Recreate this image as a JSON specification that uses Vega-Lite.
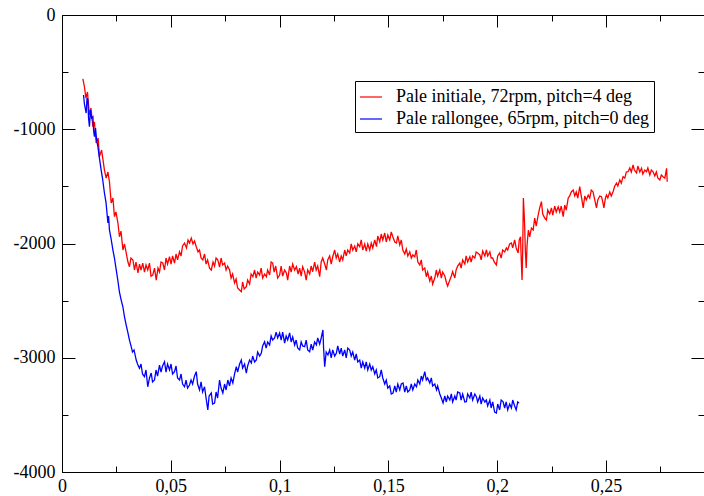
{
"$schema": "https://vega.github.io/schema/vega-lite/v6.json",
"width": 642, "height": 457,
"autosize": {"type": "none"},
"padding": {"left": 62, "top": 15, "right": 0, "bottom": 24},
"background": "white",
"config": {"view": {"stroke": "black", "strokeWidth": 1}, "font": "Liberation Serif"},
"datasets": {
"red": [
{"x":0.0096,"y":-560},{"x":0.0103,"y":-628},{"x":0.0110,"y":-727},{"x":0.0117,"y":-674},{"x":0.0126,"y":-875},{"x":0.0133,"y":-814},{"x":0.0142,"y":-978},{"x":0.0149,"y":-936},{"x":0.0157,"y":-1120},{"x":0.0166,"y":-1077},
{"x":0.0172,"y":-1240},{"x":0.0182,"y":-1182},{"x":0.0195,"y":-1357},{"x":0.0203,"y":-1427},{"x":0.0211,"y":-1374},{"x":0.0218,"y":-1459},{"x":0.0226,"y":-1646},{"x":0.0234,"y":-1602},{"x":0.0241,"y":-1765},{"x":0.0248,"y":-1724},
{"x":0.0257,"y":-1821},{"x":0.0264,"y":-1941},{"x":0.0271,"y":-1891},{"x":0.0280,"y":-2057},{"x":0.0287,"y":-2004},{"x":0.0295,"y":-2083},{"x":0.0303,"y":-2162},{"x":0.0310,"y":-2203},{"x":0.0317,"y":-2127},{"x":0.0326,"y":-2144},
{"x":0.0333,"y":-2232},{"x":0.0340,"y":-2162},{"x":0.0349,"y":-2258},{"x":0.0356,"y":-2180},{"x":0.0363,"y":-2232},{"x":0.0371,"y":-2171},{"x":0.0379,"y":-2250},{"x":0.0386,"y":-2188},{"x":0.0394,"y":-2232},{"x":0.0402,"y":-2171},
{"x":0.0409,"y":-2285},{"x":0.0417,"y":-2276},{"x":0.0425,"y":-2215},{"x":0.0433,"y":-2320},{"x":0.0441,"y":-2215},{"x":0.0448,"y":-2250},{"x":0.0455,"y":-2162},{"x":0.0463,"y":-2171},{"x":0.0471,"y":-2232},{"x":0.0478,"y":-2127},
{"x":0.0485,"y":-2180},{"x":0.0494,"y":-2116},{"x":0.0501,"y":-2180},{"x":0.0508,"y":-2109},{"x":0.0517,"y":-2171},{"x":0.0524,"y":-2092},{"x":0.0531,"y":-2144},{"x":0.0540,"y":-2072},{"x":0.0547,"y":-2109},{"x":0.0554,"y":-2022},
{"x":0.0563,"y":-1996},{"x":0.0572,"y":-2039},{"x":0.0579,"y":-1969},{"x":0.0586,"y":-1996},{"x":0.0594,"y":-1952},{"x":0.0602,"y":-2004},{"x":0.0609,"y":-1978},{"x":0.0617,"y":-2028},{"x":0.0625,"y":-2074},{"x":0.0632,"y":-2057},
{"x":0.0639,"y":-2127},{"x":0.0647,"y":-2144},{"x":0.0655,"y":-2092},{"x":0.0662,"y":-2180},{"x":0.0669,"y":-2144},{"x":0.0678,"y":-2215},{"x":0.0686,"y":-2232},{"x":0.0694,"y":-2162},{"x":0.0701,"y":-2197},{"x":0.0708,"y":-2127},
{"x":0.0716,"y":-2144},{"x":0.0724,"y":-2206},{"x":0.0731,"y":-2127},{"x":0.0738,"y":-2188},{"x":0.0747,"y":-2171},{"x":0.0754,"y":-2232},{"x":0.0761,"y":-2197},{"x":0.0770,"y":-2232},{"x":0.0777,"y":-2302},{"x":0.0784,"y":-2267},
{"x":0.0793,"y":-2346},{"x":0.0800,"y":-2311},{"x":0.0807,"y":-2390},{"x":0.0816,"y":-2407},{"x":0.0824,"y":-2422},{"x":0.0830,"y":-2337},{"x":0.0837,"y":-2398},{"x":0.0847,"y":-2378},{"x":0.0853,"y":-2320},{"x":0.0862,"y":-2355},
{"x":0.0869,"y":-2267},{"x":0.0877,"y":-2291},{"x":0.0885,"y":-2232},{"x":0.0892,"y":-2302},{"x":0.0899,"y":-2250},{"x":0.0908,"y":-2276},{"x":0.0915,"y":-2215},{"x":0.0922,"y":-2302},{"x":0.0931,"y":-2267},{"x":0.0939,"y":-2291},
{"x":0.0945,"y":-2232},{"x":0.0954,"y":-2276},{"x":0.0961,"y":-2162},{"x":0.0968,"y":-2171},{"x":0.0975,"y":-2250},{"x":0.0982,"y":-2197},{"x":0.0991,"y":-2302},{"x":0.1000,"y":-2276},{"x":0.1007,"y":-2197},{"x":0.1014,"y":-2285},
{"x":0.1023,"y":-2232},{"x":0.1031,"y":-2258},{"x":0.1037,"y":-2320},{"x":0.1046,"y":-2197},{"x":0.1053,"y":-2250},{"x":0.1060,"y":-2180},{"x":0.1069,"y":-2232},{"x":0.1077,"y":-2203},{"x":0.1085,"y":-2267},{"x":0.1092,"y":-2215},
{"x":0.1099,"y":-2285},{"x":0.1106,"y":-2203},{"x":0.1115,"y":-2250},{"x":0.1122,"y":-2320},{"x":0.1129,"y":-2232},{"x":0.1138,"y":-2267},{"x":0.1145,"y":-2197},{"x":0.1152,"y":-2247},{"x":0.1161,"y":-2162},{"x":0.1168,"y":-2232},
{"x":0.1175,"y":-2197},{"x":0.1184,"y":-2291},{"x":0.1191,"y":-2162},{"x":0.1198,"y":-2127},{"x":0.1207,"y":-2180},{"x":0.1215,"y":-2232},{"x":0.1221,"y":-2144},{"x":0.1230,"y":-2109},{"x":0.1237,"y":-2180},{"x":0.1244,"y":-2116},
{"x":0.1253,"y":-2057},{"x":0.1260,"y":-2127},{"x":0.1267,"y":-2092},{"x":0.1276,"y":-2162},{"x":0.1283,"y":-2109},{"x":0.1290,"y":-2144},{"x":0.1299,"y":-2057},{"x":0.1306,"y":-2109},{"x":0.1313,"y":-2057},{"x":0.1322,"y":-2083},
{"x":0.1329,"y":-2004},{"x":0.1336,"y":-2057},{"x":0.1345,"y":-2022},{"x":0.1352,"y":-2074},{"x":0.1359,"y":-2004},{"x":0.1368,"y":-2028},{"x":0.1375,"y":-1969},{"x":0.1382,"y":-2057},{"x":0.1391,"y":-2004},{"x":0.1398,"y":-2066},
{"x":0.1405,"y":-2004},{"x":0.1414,"y":-2057},{"x":0.1421,"y":-1996},{"x":0.1428,"y":-2039},{"x":0.1437,"y":-1969},{"x":0.1445,"y":-2028},{"x":0.1451,"y":-1934},{"x":0.1460,"y":-1984},{"x":0.1467,"y":-1917},{"x":0.1474,"y":-1969},
{"x":0.1483,"y":-1908},{"x":0.1490,"y":-1987},{"x":0.1497,"y":-1926},{"x":0.1506,"y":-1969},{"x":0.1513,"y":-1899},{"x":0.1520,"y":-1941},{"x":0.1529,"y":-1987},{"x":0.1537,"y":-1996},{"x":0.1543,"y":-1934},{"x":0.1552,"y":-2013},
{"x":0.1559,"y":-1969},{"x":0.1566,"y":-2057},{"x":0.1575,"y":-2092},{"x":0.1582,"y":-2048},{"x":0.1589,"y":-2109},{"x":0.1598,"y":-2074},{"x":0.1605,"y":-2127},{"x":0.1612,"y":-2100},{"x":0.1621,"y":-2116},{"x":0.1628,"y":-2057},
{"x":0.1635,"y":-2162},{"x":0.1644,"y":-2188},{"x":0.1651,"y":-2144},{"x":0.1657,"y":-2232},{"x":0.1667,"y":-2215},{"x":0.1674,"y":-2291},{"x":0.1680,"y":-2250},{"x":0.1690,"y":-2328},{"x":0.1697,"y":-2285},{"x":0.1703,"y":-2355},
{"x":0.1713,"y":-2302},{"x":0.1720,"y":-2232},{"x":0.1726,"y":-2285},{"x":0.1736,"y":-2232},{"x":0.1743,"y":-2302},{"x":0.1749,"y":-2250},{"x":0.1759,"y":-2285},{"x":0.1767,"y":-2346},{"x":0.1772,"y":-2372},{"x":0.1782,"y":-2320},
{"x":0.1789,"y":-2285},{"x":0.1795,"y":-2247},{"x":0.1805,"y":-2302},{"x":0.1811,"y":-2232},{"x":0.1818,"y":-2197},{"x":0.1828,"y":-2171},{"x":0.1834,"y":-2215},{"x":0.1841,"y":-2144},{"x":0.1851,"y":-2180},{"x":0.1857,"y":-2109},
{"x":0.1864,"y":-2162},{"x":0.1874,"y":-2116},{"x":0.1880,"y":-2162},{"x":0.1887,"y":-2109},{"x":0.1897,"y":-2127},{"x":0.1903,"y":-2074},{"x":0.1910,"y":-2083},{"x":0.1920,"y":-2100},{"x":0.1926,"y":-2144},{"x":0.1933,"y":-2066},
{"x":0.1943,"y":-2109},{"x":0.1950,"y":-2057},{"x":0.1956,"y":-2109},{"x":0.1966,"y":-2074},{"x":0.1972,"y":-2127},{"x":0.1979,"y":-2127},{"x":0.1986,"y":-2162},{"x":0.1996,"y":-2188},{"x":0.2002,"y":-2109},{"x":0.2011,"y":-2083},
{"x":0.2018,"y":-2127},{"x":0.2025,"y":-2057},{"x":0.2034,"y":-2074},{"x":0.2042,"y":-2039},{"x":0.2048,"y":-2057},{"x":0.2057,"y":-2004},{"x":0.2065,"y":-1996},{"x":0.2071,"y":-2039},{"x":0.2080,"y":-1969},{"x":0.2087,"y":-2039},
{"x":0.2096,"y":-2083},{"x":0.2101,"y":-1969},{"x":0.2107,"y":-1941},{"x":0.2110,"y":-2127},{"x":0.2114,"y":-2320},{"x":0.2117,"y":-2057},{"x":0.2120,"y":-1602},{"x":0.2124,"y":-1751},{"x":0.2126,"y":-1853},{"x":0.2129,"y":-2057},
{"x":0.2133,"y":-2215},{"x":0.2137,"y":-2013},{"x":0.2143,"y":-1882},{"x":0.2149,"y":-1941},{"x":0.2157,"y":-1865},{"x":0.2165,"y":-1882},{"x":0.2172,"y":-1777},{"x":0.2179,"y":-1847},{"x":0.2188,"y":-1751},{"x":0.2195,"y":-1689},
{"x":0.2203,"y":-1634},{"x":0.2209,"y":-1742},{"x":0.2218,"y":-1777},{"x":0.2226,"y":-1794},{"x":0.2232,"y":-1707},{"x":0.2241,"y":-1742},{"x":0.2249,"y":-1689},{"x":0.2255,"y":-1751},{"x":0.2264,"y":-1672},{"x":0.2271,"y":-1724},
{"x":0.2280,"y":-1678},{"x":0.2287,"y":-1724},{"x":0.2294,"y":-1672},{"x":0.2303,"y":-1765},{"x":0.2310,"y":-1663},{"x":0.2317,"y":-1707},{"x":0.2326,"y":-1602},{"x":0.2333,"y":-1584},{"x":0.2340,"y":-1549},{"x":0.2349,"y":-1532},
{"x":0.2356,"y":-1584},{"x":0.2363,"y":-1549},{"x":0.2370,"y":-1602},{"x":0.2379,"y":-1503},{"x":0.2386,"y":-1584},{"x":0.2395,"y":-1689},{"x":0.2402,"y":-1584},{"x":0.2409,"y":-1619},{"x":0.2418,"y":-1576},{"x":0.2425,"y":-1602},
{"x":0.2432,"y":-1532},{"x":0.2440,"y":-1547},{"x":0.2448,"y":-1619},{"x":0.2456,"y":-1689},{"x":0.2462,"y":-1619},{"x":0.2471,"y":-1584},{"x":0.2479,"y":-1590},{"x":0.2485,"y":-1637},{"x":0.2490,"y":-1689},{"x":0.2497,"y":-1602},
{"x":0.2502,"y":-1576},{"x":0.2508,"y":-1602},{"x":0.2517,"y":-1549},{"x":0.2524,"y":-1584},{"x":0.2532,"y":-1547},{"x":0.2540,"y":-1497},{"x":0.2548,"y":-1471},{"x":0.2554,"y":-1497},{"x":0.2563,"y":-1444},{"x":0.2570,"y":-1471},
{"x":0.2578,"y":-1415},{"x":0.2586,"y":-1427},{"x":0.2593,"y":-1374},{"x":0.2601,"y":-1372},{"x":0.2609,"y":-1339},{"x":0.2616,"y":-1374},{"x":0.2624,"y":-1313},{"x":0.2630,"y":-1357},{"x":0.2640,"y":-1383},{"x":0.2646,"y":-1322},
{"x":0.2655,"y":-1374},{"x":0.2663,"y":-1342},{"x":0.2669,"y":-1392},{"x":0.2678,"y":-1357},{"x":0.2686,"y":-1372},{"x":0.2692,"y":-1339},{"x":0.2701,"y":-1400},{"x":0.2708,"y":-1357},{"x":0.2716,"y":-1372},{"x":0.2724,"y":-1409},
{"x":0.2731,"y":-1374},{"x":0.2738,"y":-1427},{"x":0.2747,"y":-1444},{"x":0.2754,"y":-1400},{"x":0.2762,"y":-1415},{"x":0.2770,"y":-1427},{"x":0.2778,"y":-1342},{"x":0.2781,"y":-1459}
],
"blue": [
{"x":0.0099,"y":-700},{"x":0.0103,"y":-779},{"x":0.0111,"y":-858},{"x":0.0115,"y":-727},{"x":0.0119,"y":-744},{"x":0.0122,"y":-902},{"x":0.0126,"y":-978},{"x":0.0131,"y":-832},{"x":0.0136,"y":-902},{"x":0.0142,"y":-890},
{"x":0.0145,"y":-1007},{"x":0.0149,"y":-1065},{"x":0.0154,"y":-989},{"x":0.0159,"y":-1094},{"x":0.0165,"y":-1153},{"x":0.0172,"y":-1252},{"x":0.0180,"y":-1357},{"x":0.0186,"y":-1427},{"x":0.0195,"y":-1558},{"x":0.0202,"y":-1637},
{"x":0.0211,"y":-1821},{"x":0.0214,"y":-1759},{"x":0.0218,"y":-1882},{"x":0.0225,"y":-1952},{"x":0.0234,"y":-2057},{"x":0.0241,"y":-2127},{"x":0.0248,"y":-2215},{"x":0.0257,"y":-2328},{"x":0.0264,"y":-2425},{"x":0.0272,"y":-2495},
{"x":0.0280,"y":-2556},{"x":0.0287,"y":-2641},{"x":0.0294,"y":-2705},{"x":0.0303,"y":-2783},{"x":0.0310,"y":-2845},{"x":0.0318,"y":-2903},{"x":0.0324,"y":-2950},{"x":0.0331,"y":-2932},{"x":0.0341,"y":-3020},{"x":0.0347,"y":-3055},
{"x":0.0356,"y":-3092},{"x":0.0363,"y":-3055},{"x":0.0370,"y":-3142},{"x":0.0379,"y":-3166},{"x":0.0386,"y":-3107},{"x":0.0394,"y":-3254},{"x":0.0402,"y":-3177},{"x":0.0410,"y":-3134},{"x":0.0416,"y":-3212},{"x":0.0425,"y":-3195},
{"x":0.0432,"y":-3107},{"x":0.0439,"y":-3160},{"x":0.0448,"y":-3064},{"x":0.0455,"y":-3125},{"x":0.0462,"y":-3072},{"x":0.0471,"y":-3035},{"x":0.0478,"y":-3125},{"x":0.0485,"y":-3055},{"x":0.0494,"y":-3107},{"x":0.0501,"y":-3055},
{"x":0.0508,"y":-3142},{"x":0.0517,"y":-3122},{"x":0.0524,"y":-3072},{"x":0.0531,"y":-3177},{"x":0.0540,"y":-3195},{"x":0.0547,"y":-3142},{"x":0.0554,"y":-3230},{"x":0.0563,"y":-3254},{"x":0.0570,"y":-3195},{"x":0.0577,"y":-3265},
{"x":0.0586,"y":-3239},{"x":0.0593,"y":-3195},{"x":0.0600,"y":-3230},{"x":0.0609,"y":-3160},{"x":0.0617,"y":-3122},{"x":0.0623,"y":-3230},{"x":0.0632,"y":-3282},{"x":0.0639,"y":-3212},{"x":0.0646,"y":-3300},{"x":0.0655,"y":-3254},
{"x":0.0662,"y":-3352},{"x":0.0670,"y":-3457},{"x":0.0676,"y":-3335},{"x":0.0686,"y":-3309},{"x":0.0692,"y":-3405},{"x":0.0701,"y":-3396},{"x":0.0708,"y":-3300},{"x":0.0715,"y":-3352},{"x":0.0724,"y":-3195},{"x":0.0731,"y":-3265},
{"x":0.0739,"y":-3309},{"x":0.0747,"y":-3230},{"x":0.0754,"y":-3282},{"x":0.0762,"y":-3195},{"x":0.0770,"y":-3247},{"x":0.0777,"y":-3177},{"x":0.0785,"y":-3221},{"x":0.0793,"y":-3142},{"x":0.0801,"y":-3078},{"x":0.0807,"y":-3125},
{"x":0.0816,"y":-3055},{"x":0.0824,"y":-3020},{"x":0.0830,"y":-3090},{"x":0.0839,"y":-3055},{"x":0.0847,"y":-3134},{"x":0.0853,"y":-3072},{"x":0.0862,"y":-3020},{"x":0.0870,"y":-3046},{"x":0.0876,"y":-2985},{"x":0.0885,"y":-3037},
{"x":0.0893,"y":-3020},{"x":0.0899,"y":-2950},{"x":0.0908,"y":-2985},{"x":0.0916,"y":-2958},{"x":0.0922,"y":-2897},{"x":0.0931,"y":-2860},{"x":0.0938,"y":-2915},{"x":0.0945,"y":-2862},{"x":0.0954,"y":-2888},{"x":0.0961,"y":-2810},
{"x":0.0968,"y":-2845},{"x":0.0977,"y":-2827},{"x":0.0984,"y":-2775},{"x":0.0991,"y":-2827},{"x":0.1000,"y":-2783},{"x":0.1007,"y":-2845},{"x":0.1014,"y":-2775},{"x":0.1023,"y":-2871},{"x":0.1030,"y":-2810},{"x":0.1037,"y":-2845},
{"x":0.1046,"y":-2783},{"x":0.1053,"y":-2862},{"x":0.1060,"y":-2818},{"x":0.1069,"y":-2888},{"x":0.1076,"y":-2845},{"x":0.1083,"y":-2915},{"x":0.1092,"y":-2932},{"x":0.1099,"y":-2862},{"x":0.1106,"y":-2897},{"x":0.1115,"y":-2903},
{"x":0.1122,"y":-2845},{"x":0.1129,"y":-2932},{"x":0.1138,"y":-2947},{"x":0.1145,"y":-2880},{"x":0.1152,"y":-2932},{"x":0.1161,"y":-2862},{"x":0.1169,"y":-2888},{"x":0.1175,"y":-2827},{"x":0.1184,"y":-2880},{"x":0.1191,"y":-2827},
{"x":0.1199,"y":-2757},{"x":0.1202,"y":-2915},{"x":0.1207,"y":-3078},{"x":0.1214,"y":-2950},{"x":0.1222,"y":-2976},{"x":0.1230,"y":-2932},{"x":0.1237,"y":-3002},{"x":0.1244,"y":-2932},{"x":0.1253,"y":-2985},{"x":0.1261,"y":-2958},
{"x":0.1267,"y":-2897},{"x":0.1276,"y":-2967},{"x":0.1283,"y":-2915},{"x":0.1290,"y":-2985},{"x":0.1299,"y":-2932},{"x":0.1306,"y":-3002},{"x":0.1313,"y":-2915},{"x":0.1322,"y":-2932},{"x":0.1329,"y":-2985},{"x":0.1336,"y":-2950},
{"x":0.1345,"y":-3020},{"x":0.1352,"y":-2967},{"x":0.1359,"y":-3037},{"x":0.1368,"y":-3020},{"x":0.1375,"y":-3090},{"x":0.1382,"y":-3037},{"x":0.1391,"y":-3090},{"x":0.1398,"y":-3037},{"x":0.1405,"y":-3107},{"x":0.1414,"y":-3055},
{"x":0.1421,"y":-3107},{"x":0.1428,"y":-3078},{"x":0.1437,"y":-3142},{"x":0.1444,"y":-3107},{"x":0.1451,"y":-3177},{"x":0.1460,"y":-3166},{"x":0.1467,"y":-3107},{"x":0.1474,"y":-3177},{"x":0.1483,"y":-3230},{"x":0.1490,"y":-3195},
{"x":0.1497,"y":-3265},{"x":0.1506,"y":-3247},{"x":0.1513,"y":-3317},{"x":0.1521,"y":-3309},{"x":0.1529,"y":-3247},{"x":0.1536,"y":-3300},{"x":0.1543,"y":-3230},{"x":0.1552,"y":-3282},{"x":0.1559,"y":-3230},{"x":0.1567,"y":-3221},
{"x":0.1575,"y":-3300},{"x":0.1582,"y":-3247},{"x":0.1589,"y":-3300},{"x":0.1598,"y":-3282},{"x":0.1605,"y":-3230},{"x":0.1612,"y":-3282},{"x":0.1621,"y":-3230},{"x":0.1629,"y":-3254},{"x":0.1635,"y":-3195},{"x":0.1644,"y":-3230},
{"x":0.1651,"y":-3160},{"x":0.1657,"y":-3195},{"x":0.1667,"y":-3122},{"x":0.1674,"y":-3195},{"x":0.1680,"y":-3177},{"x":0.1690,"y":-3221},{"x":0.1697,"y":-3177},{"x":0.1703,"y":-3247},{"x":0.1713,"y":-3230},{"x":0.1721,"y":-3282},
{"x":0.1726,"y":-3247},{"x":0.1736,"y":-3317},{"x":0.1743,"y":-3352},{"x":0.1751,"y":-3396},{"x":0.1759,"y":-3335},{"x":0.1766,"y":-3387},{"x":0.1772,"y":-3335},{"x":0.1782,"y":-3370},{"x":0.1789,"y":-3317},{"x":0.1795,"y":-3387},
{"x":0.1805,"y":-3335},{"x":0.1811,"y":-3370},{"x":0.1818,"y":-3300},{"x":0.1828,"y":-3309},{"x":0.1834,"y":-3370},{"x":0.1841,"y":-3317},{"x":0.1851,"y":-3387},{"x":0.1858,"y":-3385},{"x":0.1864,"y":-3317},{"x":0.1874,"y":-3352},
{"x":0.1880,"y":-3300},{"x":0.1887,"y":-3370},{"x":0.1897,"y":-3317},{"x":0.1904,"y":-3341},{"x":0.1910,"y":-3387},{"x":0.1920,"y":-3335},{"x":0.1926,"y":-3405},{"x":0.1933,"y":-3352},{"x":0.1943,"y":-3387},{"x":0.1950,"y":-3370},
{"x":0.1956,"y":-3422},{"x":0.1966,"y":-3370},{"x":0.1972,"y":-3440},{"x":0.1979,"y":-3387},{"x":0.1988,"y":-3475},{"x":0.1996,"y":-3484},{"x":0.2002,"y":-3405},{"x":0.2011,"y":-3457},{"x":0.2018,"y":-3370},{"x":0.2027,"y":-3385},
{"x":0.2034,"y":-3440},{"x":0.2041,"y":-3387},{"x":0.2048,"y":-3457},{"x":0.2057,"y":-3405},{"x":0.2065,"y":-3440},{"x":0.2071,"y":-3370},{"x":0.2080,"y":-3422},{"x":0.2087,"y":-3457},{"x":0.2094,"y":-3387},{"x":0.2100,"y":-3396}
]
},
"layer": [
{
"data": {"name": "red"},
"mark": {"type": "line", "strokeWidth": 1.3, "interpolate": "linear"},
"encoding": {
"x": {"field": "x", "type": "quantitative", "scale": {"domain": [0, 0.295], "nice": false, "zero": false},
  "axis": {"orient": "bottom", "title": null, "grid": false, "values": [0,0.025,0.05,0.075,0.1,0.125,0.15,0.175,0.2,0.225,0.25,0.275],
    "tickSize": {"condition": {"test": "abs(round(datum.value*40)) % 2 == 0", "value": -12}, "value": -6},
    "tickColor": "black", "domainColor": "black", "labelColor": "black", "labelFont": "Liberation Serif", "labelFontSize": 18, "labelPadding": 17,
    "labelExpr": "abs(round(datum.value*40)) % 2 == 0 ? replace('' + datum.value, '.', ',') : ''", "labelFlush": false}},
"y": {"field": "y", "type": "quantitative", "scale": {"domain": [-4000, 0], "nice": false, "zero": false},
  "axis": {"orient": "left", "title": null, "grid": false, "values": [-4000,-3500,-3000,-2500,-2000,-1500,-1000,-500,0],
    "tickSize": {"condition": {"test": "abs(round(datum.value/500)) % 2 == 0", "value": -13}, "value": -6},
    "tickColor": "black", "domainColor": "black", "labelColor": "black", "labelFont": "Liberation Serif", "labelFontSize": 18, "labelPadding": 20,
    "labelExpr": "abs(round(datum.value/500)) % 2 == 0 ? '' + datum.value : ''"}},
"color": {"datum": "Pale initiale, 72rpm, pitch=4 deg", "type": "nominal",
  "scale": {"domain": ["Pale initiale, 72rpm, pitch=4 deg", "Pale rallongee, 65rpm, pitch=0 deg"], "range": ["#ff0000", "#0000ff"]},
  "legend": {"title": null, "orient": "none", "legendX": 293, "legendY": 66, "strokeColor": "black", "fillColor": "white", "padding": 4,
    "symbolType": "stroke", "symbolSize": 484, "symbolStrokeWidth": 1.2, "rowPadding": 1, "labelOffset": 13,
    "labelFont": "Liberation Serif", "labelFontSize": 18, "labelColor": "black", "labelLimit": 500,
    "labelExpr": "datum.label + '\u00a0\u00a0\u00a0\u00a0\u00a0'"}}
}
},
{
"data": {"name": "blue"},
"mark": {"type": "line", "strokeWidth": 1.3, "interpolate": "linear"},
"encoding": {
"x": {"field": "x", "type": "quantitative",
  "axis": {"orient": "top", "title": null, "grid": false, "labels": false, "domain": false, "values": [0,0.025,0.05,0.075,0.1,0.125,0.15,0.175,0.2,0.225,0.25,0.275],
    "tickSize": {"condition": {"test": "abs(round(datum.value*40)) % 2 == 0", "value": -12}, "value": -6}, "tickColor": "black"}},
"y": {"field": "y", "type": "quantitative",
  "axis": {"orient": "right", "title": null, "grid": false, "labels": false, "domain": false, "values": [-4000,-3500,-3000,-2500,-2000,-1500,-1000,-500,0],
    "tickSize": {"condition": {"test": "abs(round(datum.value/500)) % 2 == 0", "value": -13}, "value": -6}, "tickColor": "black"}},
"color": {"datum": "Pale rallongee, 65rpm, pitch=0 deg", "type": "nominal"}
}
}
],
"resolve": {"axis": {"x": "independent", "y": "independent"}}
}
